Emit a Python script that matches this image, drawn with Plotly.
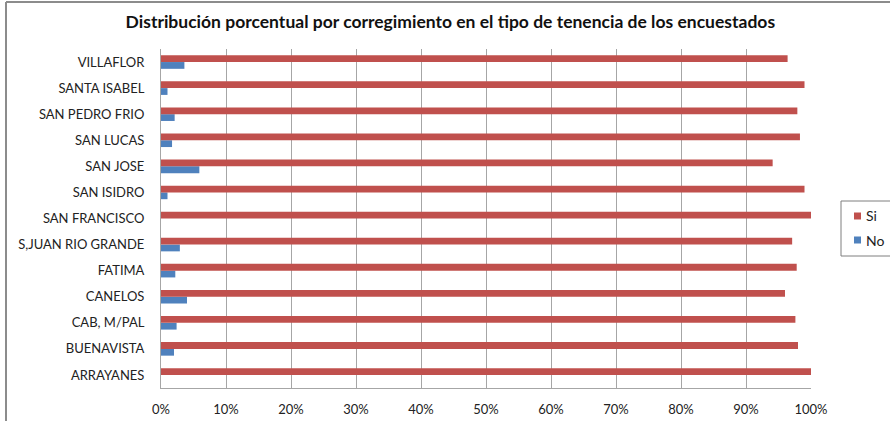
import plotly.graph_objects as go

CATEGORIAS = [
    "ARRAYANES", "BUENAVISTA", "CAB, M/PAL", "CANELOS", "FATIMA",
    "S,JUAN RIO GRANDE", "SAN FRANCISCO", "SAN ISIDRO", "SAN JOSE",
    "SAN LUCAS", "SAN PEDRO FRIO", "SANTA ISABEL", "VILLAFLOR",
]
SI = [1.000, 0.980, 0.976, 0.960, 0.978, 0.971, 1.000, 0.990, 0.941,
      0.983, 0.979, 0.990, 0.964]
NO = [0.000, 0.020, 0.024, 0.040, 0.022, 0.029, 0.000, 0.010, 0.059,
      0.017, 0.021, 0.010, 0.036]
TICKS = [0, 0.1, 0.2, 0.3, 0.4, 0.5, 0.6, 0.7, 0.8, 0.9, 1.0]

COLOR_SI = "#C0504D"
COLOR_NO = "#4F81BD"
FUENTE = "Lato, 'Open Sans', sans-serif"

# area del grafico en pixeles
L, R, T, B = 161, 811, 49, 388


def px_x(x):
    return (x - L) / (R - L)


def px_y(y):
    return (B - y) / (B - T)


fig = go.Figure()
# en barras horizontales la primera traza queda abajo dentro del grupo
fig.add_trace(go.Bar(
    y=CATEGORIAS, x=NO, name="No", orientation="h",
    marker=dict(color=COLOR_NO, line=dict(width=0)), showlegend=False,
))
fig.add_trace(go.Bar(
    y=CATEGORIAS, x=SI, name="Si", orientation="h",
    marker=dict(color=COLOR_SI, line=dict(width=0)), showlegend=False,
))

# leyenda dibujada a mano (caja cortada por el borde derecho como en el original)
leyenda = [("Si", COLOR_SI, 216), ("No", COLOR_NO, 240)]
shapes = [
    dict(type="line", xref="paper", yref="paper",
         x0=px_x(6), x1=px_x(900), y0=px_y(2), y1=px_y(2),
         line=dict(color="#8C8C8C", width=2)),
    dict(type="line", xref="paper", yref="paper",
         x0=px_x(6), x1=px_x(6), y0=px_y(2), y1=px_y(430),
         line=dict(color="#8C8C8C", width=2)),
    dict(type="rect", xref="paper", yref="paper",
         x0=px_x(841), x1=px_x(900), y0=px_y(201), y1=px_y(256),
         line=dict(color="#7F7F7F", width=1), fillcolor="white"),
]
annotations = []
for nombre, color, yc in leyenda:
    shapes.append(dict(
        type="rect", xref="paper", yref="paper",
        x0=px_x(854), x1=px_x(861), y0=px_y(yc - 3.5), y1=px_y(yc + 3.5),
        line=dict(width=0), fillcolor=color,
    ))
    annotations.append(dict(
        text=nombre, xref="paper", yref="paper", x=px_x(864), y=px_y(yc),
        xanchor="left", yanchor="middle", showarrow=False,
        font=dict(size=14, color="#222222"),
    ))

fig.update_layout(
    width=890, height=421,
    barmode="group", bargap=0.48, bargroupgap=0,
    margin=dict(l=L, r=890 - R, t=T, b=421 - B),
    paper_bgcolor="white", plot_bgcolor="white",
    font=dict(family=FUENTE, size=13, color="#222222"),
    title=dict(
        text="<b>Distribución porcentual por corregimiento en el tipo de tenencia de los encuestados</b>",
        x=0.506, xanchor="center", y=0.948, yanchor="middle",
        font=dict(size=17.5, color="#111111"),
    ),
    xaxis=dict(
        range=[0, 1], tickvals=TICKS, tickformat=".0%",
        showgrid=True, gridcolor="#A6A6A6", gridwidth=1,
        showline=True, linecolor="#A6A6A6", linewidth=1,
        ticks="", ticklabelstandoff=9, automargin=False,
        tickfont=dict(size=13), zeroline=False,
    ),
    yaxis=dict(
        showline=True, linecolor="#A6A6A6", linewidth=1,
        ticks="", ticklabelstandoff=13, tickfont=dict(size=13),
        showgrid=False, automargin=False,
    ),
    shapes=shapes,
    annotations=annotations,
)

fig.write_html(
    "out.html",
    config={"displayModeBar": False},
    post_script="document.body.style.margin='0';",
)
